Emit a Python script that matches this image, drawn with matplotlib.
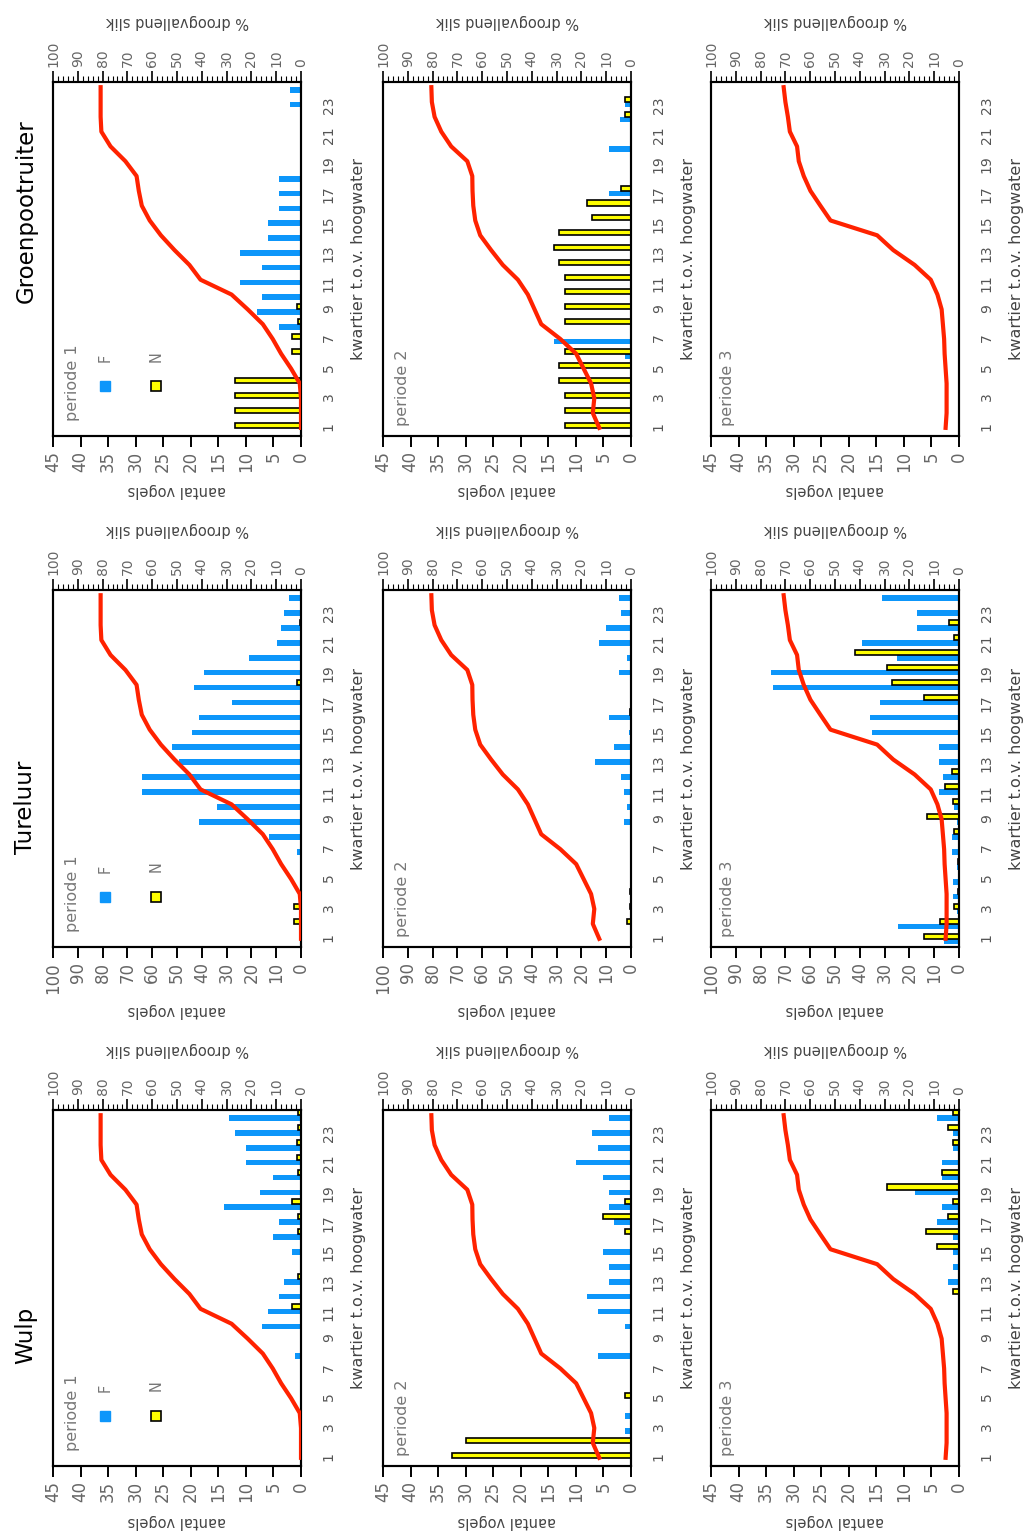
import numpy as np
import matplotlib.pyplot as plt
from matplotlib.ticker import MultipleLocator

## data ---------------------------------------------------------------
kwartier = np.arange(1, 25)
soorten = ['Wulp', 'Tureluur', 'Groenpootruiter']
perioden = ['periode 1', 'periode 2', 'periode 3']

## % droogvallend slik per periode (same for all species)
slik_p1 = [0, 0, 0, 0.5, 4, 8, 11.4, 15.4, 21.5, 28, 40.5, 45, 51, 56.5, 61, 64.2,
           65.4, 66.3, 70.8, 76.8, 80.5, 80.8, 80.8, 80.8]
slik_p2 = [12.8, 15.4, 14.8, 16.1, 19.1, 22.1, 28.5, 36.2, 38.9, 41.6, 45.6, 51.7,
           56.4, 60.8, 62.8, 63.6, 63.9, 64, 66, 72.5, 76.5, 79.2, 80.3, 80.5]
slik_p3 = [5.4, 5.0, 5.0, 5.0, 5.4, 5.8, 6.0, 6.5, 7.0, 8.7, 11.4, 17.9, 26.5, 33,
           51.8, 55.9, 59.9, 62.6, 64.6, 65.3, 68.2, 69, 70, 70.7]

## aantal vogels, F and N, per kwartier 1..24
wulp_F1 = [0, 0, 0, 0, 0, 0, 0, 1, 0, 7, 6, 4, 3, 0, 1.7, 5, 4, 14, 7.5, 5, 10, 10, 12, 13]
wulp_N1 = [0, 0, 0, 0, 0, 0, 0, 0, 0, 0, 1.7, 0, 0.5, 0, 0, 0.5, 0.5, 1.7, 0, 0.5, 0.7, 0.7, 0.6, 0.5]
wulp_F2 = [0, 0, 1, 1, 0, 0, 0, 6, 0, 1, 6, 8, 4, 4, 5, 0, 3, 4, 4, 5, 10, 6, 7, 4]
wulp_N2 = [32.5, 30, 0, 0, 1, 0, 0, 0, 0, 0, 0, 0, 0, 0, 0, 1, 5, 1, 0, 0, 0, 0, 0, 0]
wulp_F3 = [0, 0, 0, 0, 0, 0, 0, 0, 0, 0, 0, 0, 2, 1, 1, 1, 4, 3, 8, 3, 3, 1, 1, 4]
wulp_N3 = [0, 0, 0, 0, 0, 0, 0, 0, 0, 0, 0, 1, 0, 0, 4, 6, 2, 1, 13, 3, 0, 1, 2, 1]

tureluur_F1 = [0, 0, 0, 0, 0, 0, 1.5, 13, 41, 34, 64, 64, 49, 52, 44, 41, 28, 43, 39,
               21, 9.5, 8, 7, 5]
tureluur_N1 = [0, 3, 3, 0, 0, 0, 0, 0, 0, 0, 0, 0, 0, 0, 0, 0, 0, 1.5, 0, 0, 0, 0.5, 0, 0]
tureluur_F2 = [0, 0, 0, 0, 0, 0, 0, 0, 3, 1.5, 3, 4, 14.5, 7, 1, 9, 0, 0, 5, 1.5, 13,
               10, 4, 5]
tureluur_N2 = [0, 1.5, 0.5, 0.5, 0, 0, 0, 0, 0, 0, 0, 0, 0, 0, 0, 0.5, 0, 0, 0, 0, 0, 0, 0, 0]
tureluur_F3 = [6, 24.5, 1, 2.5, 2.5, 1, 3, 3, 1, 2, 8, 6.5, 8, 8, 35, 36, 32, 75, 76,
               25, 39, 17, 17, 31]
tureluur_N3 = [14, 7.5, 2, 0.5, 0, 0.5, 0, 2, 13, 2.5, 5.5, 3, 0, 0, 0, 0, 14, 27, 29,
               42, 2, 4, 0, 0]

groen_F1 = [0, 0, 0, 0, 0, 0, 0, 4, 8, 7, 11, 7, 11, 6, 6, 4, 4, 4, 0, 0, 0, 0, 2, 2]
groen_N1 = [12, 12, 12, 12, 0, 1.7, 1.7, 0.5, 0.7, 0, 0, 0, 0, 0, 0, 0, 0, 0, 0, 0, 0, 0, 0, 0]
groen_F2 = [0, 0, 0, 0, 0, 1, 14, 0, 0, 0, 0, 0, 0, 0, 0, 0, 4, 0, 0, 4, 0, 2, 1, 0]
groen_N2 = [12, 12, 12, 13, 13, 12, 0, 12, 12, 12, 12, 13, 14, 13, 7, 8, 1.8, 0, 0, 0,
            0, 1, 1, 0]
groen_F3 = [0] * 24
groen_N3 = [0] * 24

F = {'Wulp': [wulp_F1, wulp_F2, wulp_F3],
     'Tureluur': [tureluur_F1, tureluur_F2, tureluur_F3],
     'Groenpootruiter': [groen_F1, groen_F2, groen_F3]}
N = {'Wulp': [wulp_N1, wulp_N2, wulp_N3],
     'Tureluur': [tureluur_N1, tureluur_N2, tureluur_N3],
     'Groenpootruiter': [groen_N1, groen_N2, groen_N3]}
slik = [slik_p1, slik_p2, slik_p3]
ymax = {'Wulp': 45, 'Tureluur': 100, 'Groenpootruiter': 45}

## layout (the whole chart is turned a quarter, so everything is rotated) ----
W, H = 1027, 1533
blauw = '#0d96fa'
geel = '#ffff00'
rood = '#ff2200'
grijs = '#666666'

cols = [(53, 301), (383, 631), (711, 959)]
rows = {'Wulp': (1110, 1466), 'Tureluur': (590, 947), 'Groenpootruiter': (82, 436)}
title_y = {'Wulp': 1335, 'Tureluur': 807, 'Groenpootruiter': 211}

fig = plt.figure(figsize=(W / 100, H / 100), dpi=100)

for soort in soorten:
    y0, y1 = rows[soort]
    cmax = ymax[soort]
    step = 5 if cmax == 45 else 10
    for p in range(3):
        x0, x1 = cols[p]
        ax = fig.add_axes([x0 / W, 1 - y1 / H, (x1 - x0) / W, (y1 - y0) / H])
        f = np.array(F[soort][p], dtype=float)
        n = np.array(N[soort][p], dtype=float)
        ax.barh(kwartier[f > 0] - 0.18, f[f > 0], height=0.38, color=blauw, zorder=2)
        ax.barh(kwartier[n > 0] + 0.18, n[n > 0], height=0.34, color=geel,
                edgecolor='black', linewidth=1.2, zorder=3)
        ax.set_xlim(cmax, 0)
        ax.set_ylim(0.45, 24.35)

        ax.set_xticks(np.arange(0, cmax + 1, step))
        ax.tick_params(axis='x', direction='out', length=8, width=1.4, pad=3,
                       labelrotation=90, labelsize=12, labelcolor=grijs)
        ax.yaxis.tick_right()
        ax.set_yticks(np.arange(1, 24, 2))
        ax.tick_params(axis='y', length=0, pad=15, labelrotation=90,
                       labelsize=10, labelcolor='#555555')
        for s in ax.spines.values():
            s.set_linewidth(1.5)

        ax2 = ax.twiny()
        ax2.plot(slik[p], kwartier, color=rood, lw=3, zorder=4)
        ax2.set_xlim(100, 0)
        ax2.set_xticks(np.arange(0, 101, 10))
        ax2.xaxis.set_minor_locator(MultipleLocator(2))
        ax2.tick_params(axis='x', which='major', direction='out', length=8, width=1.2,
                        pad=3, labelrotation=90, labelsize=10, labelcolor=grijs)
        ax2.tick_params(axis='x', which='minor', direction='out', length=4, width=0.8)
        for s in ax2.spines.values():
            s.set_linewidth(1.5)

        lab_off = 0.155 if cmax == 45 else 0.177
        ax.text(0.5, -lab_off, 'aantal vogels', transform=ax.transAxes, rotation=180,
                ha='center', va='center', fontsize=10.5, color='#444444')
        ax.text(0.5, 1.17, '% droogvallend slik', transform=ax.transAxes, rotation=180,
                ha='center', va='center', fontsize=10.5, color='#444444')
        ax.text(1.23, 0.5, 'kwartier t.o.v. hoogwater', transform=ax.transAxes,
                rotation=90, ha='center', va='center', fontsize=11.5, color='#444444')

        px = 0.08 if p < 2 else 0.066
        py = 0.15 if p == 0 else 0.135
        ax.text(px, py, perioden[p], transform=ax.transAxes, rotation=90,
                ha='center', va='center', fontsize=11.5, color='#777777')
        if p == 0:
            ax.plot([0.21], [0.14], marker='s', ms=7.5, color=blauw, ls='none',
                    transform=ax.transAxes, zorder=5)
            ax.plot([0.415], [0.14], marker='s', ms=7.5, mfc=geel, mec='black',
                    mew=1.2, ls='none', transform=ax.transAxes, zorder=5)
            ax.text(0.21, 0.22, 'F', transform=ax.transAxes, rotation=90,
                    ha='center', va='center', fontsize=10.5, color='#777777')
            ax.text(0.415, 0.225, 'N', transform=ax.transAxes, rotation=90,
                    ha='center', va='center', fontsize=10.5, color='#777777')

    fig.text(26 / W, 1 - title_y[soort] / H, soort, rotation=90, ha='center',
             va='center', fontsize=16.5, color='black')

fig.savefig('out.png', dpi=100)
